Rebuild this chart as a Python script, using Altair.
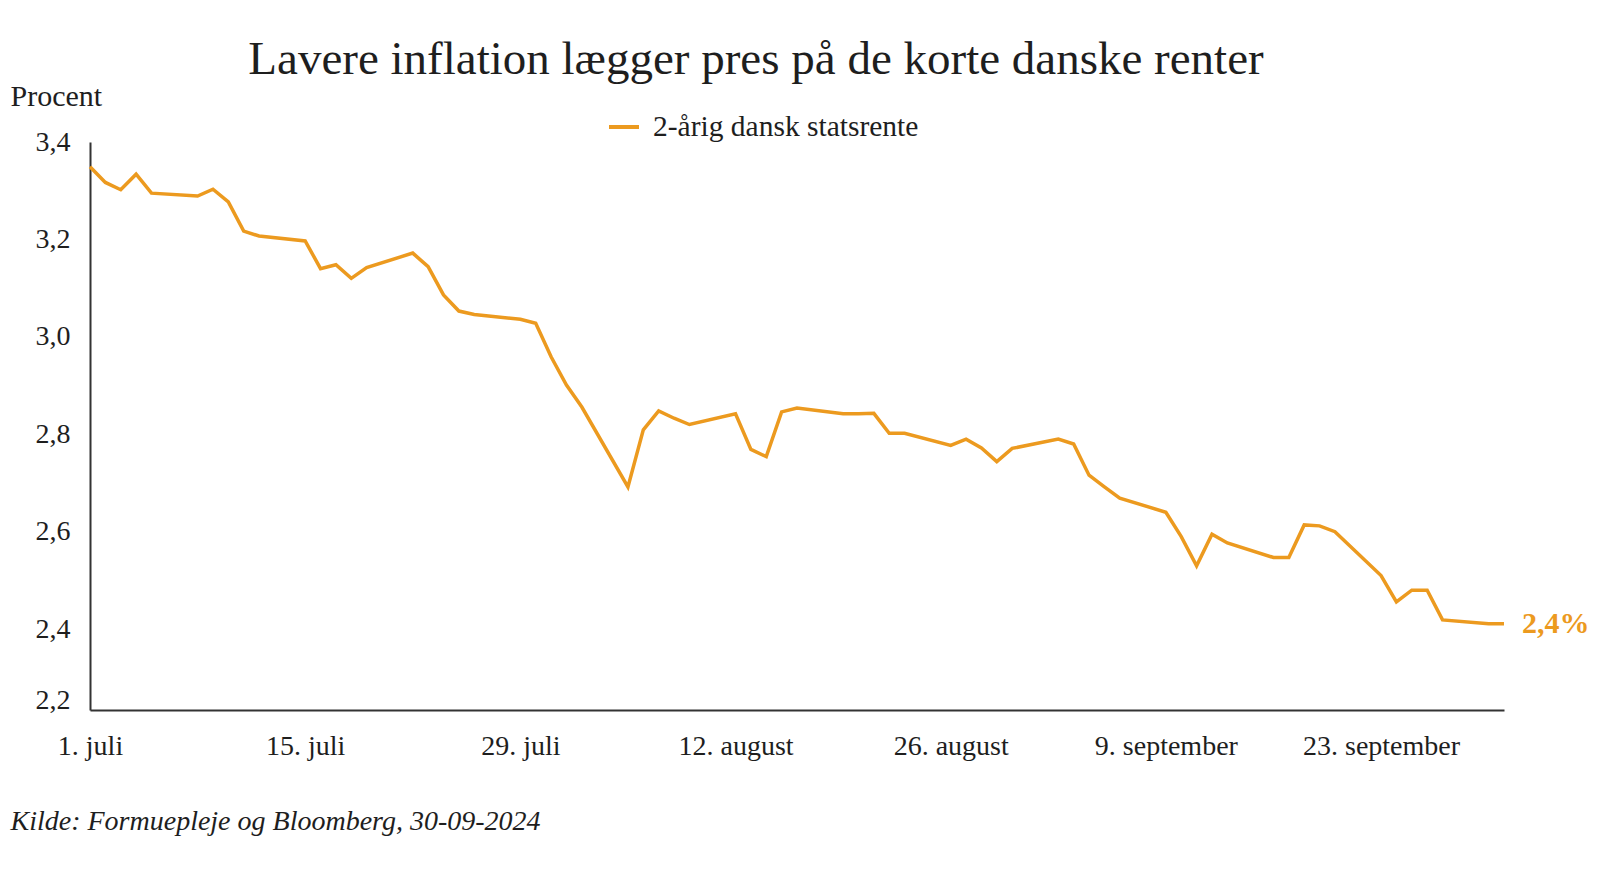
import altair as alt
import pandas as pd

# ---------------- data ----------------
dates = [
    "2024-07-01", "2024-07-02", "2024-07-03", "2024-07-04", "2024-07-05",
    "2024-07-08", "2024-07-09", "2024-07-10", "2024-07-11", "2024-07-12",
    "2024-07-15", "2024-07-16", "2024-07-17", "2024-07-18", "2024-07-19",
    "2024-07-22", "2024-07-23", "2024-07-24", "2024-07-25", "2024-07-26",
    "2024-07-29", "2024-07-30", "2024-07-31", "2024-08-01", "2024-08-02",
    "2024-08-05", "2024-08-06", "2024-08-07", "2024-08-08", "2024-08-09",
    "2024-08-12", "2024-08-13", "2024-08-14", "2024-08-15", "2024-08-16",
    "2024-08-19", "2024-08-20", "2024-08-21", "2024-08-22", "2024-08-23",
    "2024-08-26", "2024-08-27", "2024-08-28", "2024-08-29", "2024-08-30",
    "2024-09-02", "2024-09-03", "2024-09-04", "2024-09-05", "2024-09-06",
    "2024-09-09", "2024-09-10", "2024-09-11", "2024-09-12", "2024-09-13",
    "2024-09-16", "2024-09-17", "2024-09-18", "2024-09-19", "2024-09-20",
    "2024-09-23", "2024-09-24", "2024-09-25", "2024-09-26", "2024-09-27",
    "2024-09-30", "2024-10-01",
]
values = [
    3.349, 3.317, 3.302, 3.334, 3.295,
    3.289, 3.303, 3.277, 3.217, 3.207,
    3.197, 3.140, 3.148, 3.120, 3.142,
    3.172, 3.144, 3.086, 3.053, 3.046,
    3.036, 3.028, 2.959, 2.901, 2.856,
    2.692, 2.809, 2.848, 2.833, 2.820,
    2.842, 2.769, 2.754, 2.846, 2.854,
    2.842, 2.842, 2.843, 2.802, 2.802,
    2.777, 2.790, 2.772, 2.744, 2.771,
    2.790, 2.780, 2.716, 2.692, 2.669,
    2.640, 2.590, 2.530, 2.595, 2.577,
    2.547, 2.547, 2.614, 2.612, 2.600,
    2.510, 2.456, 2.480, 2.480, 2.419,
    2.411, 2.411,
]
series_name = "2-årig dansk statsrente"

y_ticks = [2.2, 2.4, 2.6, 2.8, 3.0, 3.2, 3.4]
y_min, y_max = 2.234, 3.4

x_tick_dates = ["2024-07-01", "2024-07-15", "2024-07-29", "2024-08-12",
                "2024-08-26", "2024-09-09", "2024-09-23"]
x_tick_labels = ["1. juli", "15. juli", "29. juli", "12. august",
                 "26. august", "9. september", "23. september"]

title_text = "Lavere inflation lægger pres på de korte danske renter"
y_title = "Procent"
source_text = "Kilde: Formuepleje og Bloomberg, 30-09-2024"

# ---------------- style ----------------
ORANGE = "#EC9A1F"
TEXT = "#1e1e1e"
AXIS = "#333333"
FONT = "Liberation Serif"

df = pd.DataFrame({"date": dates, "value": values, "serie": series_name})
last = pd.DataFrame({
    "date": [dates[-1]],
    "value": [values[-1]],
    "label": [f"{values[-1]:.1f}".replace(".", ",") + "%"],
})


def dt(s):
    return alt.DateTime(year=int(s[:4]), month=int(s[5:7]), date=int(s[8:10]), utc=True)


x_values = [dt(d) for d in x_tick_dates]
x_label_expr = (
    "[" + ",".join(f"'{l}'" for l in x_tick_labels) + "]"
    + "[indexof([" + ",".join(f"'{d}'" for d in x_tick_dates) + "], utcFormat(datum.value, '%Y-%m-%d'))]"
)
y_values = [max(v, y_min) for v in y_ticks]

x_enc = alt.X(
    "date:T",
    scale=alt.Scale(type="utc", nice=False, domain=[dt(dates[0]), dt(dates[-1])]),
    axis=alt.Axis(
        values=x_values,
        labelExpr=x_label_expr,
        labelFlush=False,
        labelOverlap=False,
        ticks=False,
        tickSize=0,
        grid=False,
        domainColor=AXIS,
        domainWidth=2,
        labelFont=FONT,
        labelFontSize=28,
        labelColor=TEXT,
        labelBaseline="middle",
        labelPadding=36,
        title=source_text,
        titleFont=FONT,
        titleFontSize=28,
        titleFontStyle="italic",
        titleFontWeight="normal",
        titleColor=TEXT,
        titleAlign="left",
        titleAnchor="start",
        titleBaseline="middle",
        titleX=-80,
        titleY=111,
    ),
)

y_enc = alt.Y(
    "value:Q",
    scale=alt.Scale(domain=[y_min, y_max], nice=False, zero=False),
    axis=alt.Axis(
        values=y_values,
        labelExpr="replace(format(datum.value, '.1f'), '.', ',')",
        labelOffset={"condition": {"test": f"datum.value < {y_ticks[1] - 0.05}", "value": -10}, "value": 0},
        ticks=False,
        tickSize=0,
        grid=False,
        domainColor=AXIS,
        domainWidth=2,
        labelFont=FONT,
        labelFontSize=28,
        labelColor=TEXT,
        labelPadding=20,
        title=y_title,
        titleFont=FONT,
        titleFontSize=30,
        titleFontWeight="normal",
        titleColor=TEXT,
        titleAngle=0,
        titleAlign="left",
        titleBaseline="middle",
        titleX=-80,
        titleY=-46,
    ),
)

line = alt.Chart(df).mark_line(strokeWidth=3.5).encode(
    x=x_enc,
    y=y_enc,
    color=alt.Color(
        "serie:N",
        scale=alt.Scale(domain=[series_name], range=[ORANGE]),
        legend=alt.Legend(
            title=None,
            orient="none",
            legendX=517,
            legendY=-32,
            padding=0,
            symbolType="stroke",
            symbolSize=900,
            symbolStrokeWidth=4,
            labelFont=FONT,
            labelFontSize=29.5,
            labelColor=TEXT,
            labelOffset=12,
            labelLimit=0,
        ),
    ),
)

end_label = alt.Chart(last).mark_text(
    align="left", baseline="middle", dx=18, fontSize=30, fontWeight="bold",
    font=FONT, color=ORANGE,
).encode(x="date:T", y="value:Q", text="label:N")

chart = (
    alt.layer(line, end_label)
    .properties(
        width=1414,
        height=568,
        background="white",
        autosize=alt.AutoSizeParams(type="none"),
        padding={"left": 82, "top": 134, "right": 88, "bottom": 150},
        title=alt.TitleParams(
            text=title_text,
            font=FONT,
            fontSize=47,
            fontWeight="normal",
            color=TEXT,
            anchor="middle",
            dx=-41,
            dy=5,
            offset=2,
        ),
    )
    .configure_view(strokeWidth=0, stroke="transparent")
)

chart.save("out.html", embed_options={"renderer": "svg", "actions": False})
